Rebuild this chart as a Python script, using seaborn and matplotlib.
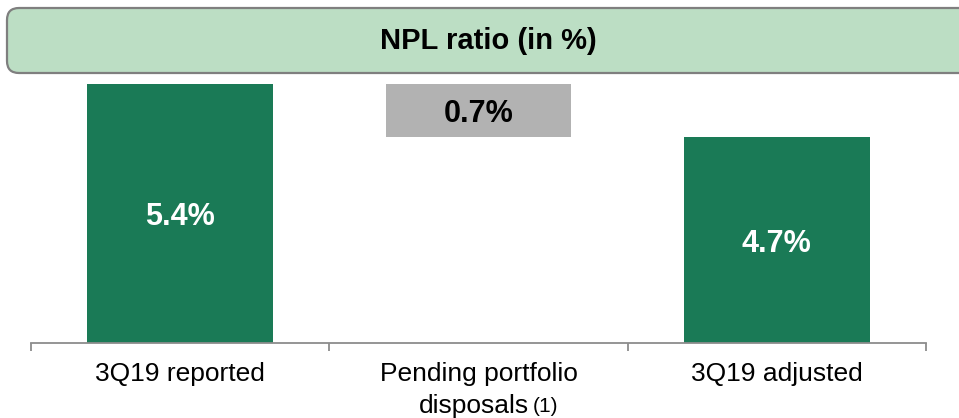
import matplotlib
matplotlib.use("Agg")
import matplotlib.pyplot as plt
from matplotlib.patches import FancyBboxPatch
from matplotlib.transforms import IdentityTransform, blended_transform_factory
import seaborn as sns

categories = ["3Q19 reported", "Pending portfolio", "3Q19 adjusted"]
values = [5.4, 0.7, 4.7]
bases = [0.0, 4.7, 0.0]
bar_labels = ["5.4%", "0.7%", "4.7%"]
bar_colors = ["#1a7a56", "#b2b2b2", "#1a7a56"]
label_colors = ["white", "black", "white"]

sns.set_theme(style="white")
plt.rcParams["font.family"] = ["Liberation Sans", "DejaVu Sans"]

W, H = 959, 418
fig = plt.figure(figsize=(W / 100, H / 100), dpi=100)
ax = fig.add_axes([31 / W, 1 - 343 / H, 895 / W, 259 / H])

# waterfall: floating middle bar sits on the adjusted value
sns.barplot(x=categories, y=values, bottom=bases, color=bar_colors[0],
            width=0.623, linewidth=0, saturation=1, ax=ax)
for patch, c in zip(ax.patches, bar_colors):
    patch.set_facecolor(c)

ax.set_xlim(-0.5, 2.5)
ax.set_ylim(2.0, 5.4)
ax.set_yticks([])
ax.set_ylabel("")
ax.set_xlabel("")

for i, (b, v, lab, lc) in enumerate(zip(bases, values, bar_labels, label_colors)):
    lo = max(b, 2.0)
    ax.text(i, (lo + b + v) / 2, lab, ha="center", va="center_baseline",
            color=lc, fontsize=22, fontweight="bold")

for s in ["top", "left", "right"]:
    ax.spines[s].set_visible(False)
ax.spines["bottom"].set_color("#8c8c8c")
ax.spines["bottom"].set_linewidth(1.3)

ax.set_xticks([0, 1, 2])
ax.set_xticklabels(categories, fontsize=19, color="black")
ax.set_xticks([-0.5, 0.5, 1.5, 2.5], minor=True)
ax.tick_params(axis="x", which="major", length=0, pad=14)
ax.tick_params(axis="x", which="minor", bottom=True, length=6, width=1.3,
               color="#8c8c8c", direction="out")

tr = blended_transform_factory(ax.transData, ax.transAxes)
ax.text(0.986, -0.270, "disposals", transform=tr, ha="center", va="baseline",
        fontsize=19, color="black")
ax.text(1.182, -0.266, "(1)", transform=tr, ha="left", va="baseline",
        fontsize=15, color="black")

# header banner
header = FancyBboxPatch((7, H - 73), 1000, 65,
                        boxstyle="round,pad=0,rounding_size=12",
                        facecolor="#bcdec4", edgecolor="#7f7f7f", linewidth=1.6,
                        transform=IdentityTransform())
fig.patches.append(header)
fig.text(488 / W, 1 - 41 / H, "NPL ratio (in %)", ha="center", va="center",
         fontsize=21, fontweight="bold", color="black")

fig.savefig("out.png", dpi=100)
